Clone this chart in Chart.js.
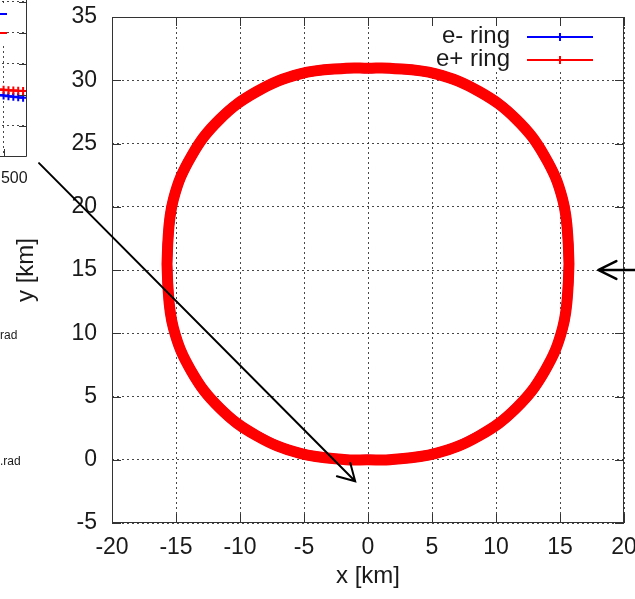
<!DOCTYPE html>
<html>
<head>
<meta charset="utf-8">
<script src="https://cdn.jsdelivr.net/npm/chart.js@4"></script>
<style>
  html, body { margin: 0; padding: 0; background: #fff; overflow: hidden; }
  #wrap { position: relative; width: 635px; height: 599px; overflow: hidden; }
  #ringChart { position: absolute; left: 0; top: 0; }
  #sideChart { position: absolute; left: -173px; top: -40px; }
</style>
</head>
<body>
<div id="wrap">
  <canvas id="ringChart" width="635" height="599"></canvas>
  <canvas id="sideChart" width="210" height="230"></canvas>
</div>
<script>
// ring layout (km), clockwise from top centre
const RING_X = [0, 1.7, 5.3, 8.7, 11.6, 13.8, 15.2, 15.65, 15.65, 15.2, 13.8, 11.6, 8.7, 5.3, 1.7, 0, -1.7, -5.3, -8.7, -11.6, -13.8, -15.2, -15.65, -15.65, -15.2, -13.8, -11.6, -8.7, -5.3, -1.7, 0]
const RING_Y = [30.95, 30.95, 30.5, 29.1, 26.9, 24.0, 20.6, 17.0, 14.0, 10.4, 7.0, 4.1, 1.9, 0.5, 0, 0, 0, 0.5, 1.9, 4.1, 7.0, 10.4, 14.0, 17.0, 20.6, 24.0, 26.9, 29.1, 30.5, 30.95, 30.95]
const SERIES = ['e- ring', 'e+ ring']
const X_TICKS = [-20, -15, -10, -5, 0, 5, 10, 15, 20]
const Y_TICKS = [-5, 0, 5, 10, 15, 20, 25, 30, 35]

// the cut-off neighbouring plot on the left of the slide
const SIDE_X = [2400, 2425, 2450, 2475, 2500, 2525, 2550, 2575, 2600]
const SIDE_POS = [1.44, 1.44, 1.438, 1.435, 1.433, 1.43, 1.428, 1.426, 1.425]
const SIDE_ELE = [1.41, 1.408, 1.405, 1.4, 1.396, 1.392, 1.388, 1.384, 1.381]
const SIDE_X_TICKS = [2000, 2500]
const SIDE_Y_TICKS = [1.2, 1.4, 1.6, 1.8, 2.0, 2.2]
const SIDE_NOTES = ['rad', '.rad']

const FONT = 'Liberation Sans, Arial, sans-serif'
const INK = '#1a1a1a'
const GRID = 'rgba(40,40,40,0.85)'

function arrow(ctx, x0, y0, x1, y1, head, spread, width) {
  const ang = Math.atan2(y1 - y0, x1 - x0)
  ctx.lineWidth = width
  ctx.beginPath()
  ctx.moveTo(x0, y0)
  ctx.lineTo(x1, y1)
  ctx.moveTo(x1 - head * Math.cos(ang - spread), y1 - head * Math.sin(ang - spread))
  ctx.lineTo(x1, y1)
  ctx.lineTo(x1 - head * Math.cos(ang + spread), y1 - head * Math.sin(ang + spread))
  ctx.stroke()
}

function keySample(ctx, x0, x1, y, color) {
  ctx.strokeStyle = color
  ctx.lineWidth = 2
  ctx.beginPath()
  ctx.moveTo(x0, y); ctx.lineTo(x1, y)
  const mx = (x0 + x1) / 2
  ctx.moveTo(mx - 4, y); ctx.lineTo(mx + 4, y)
  ctx.moveTo(mx, y - 4); ctx.lineTo(mx, y + 4)
  ctx.stroke()
}

// gnuplot look: solid frame, inward mirrored ticks, opaque key, arrows
const gnuplotFrame = {
  id: 'gnuplotFrame',
  beforeDatasetsDraw(chart) {
    const { ctx, chartArea: a } = chart
    ctx.save()
    ctx.fillStyle = '#fff'
    ctx.fillRect(415, a.top + 8, a.right - 1 - 415, 47)
    ctx.restore()
  },
  afterDraw(chart) {
    const { ctx, chartArea: a, scales: { x, y } } = chart
    ctx.save()
    ctx.strokeStyle = '#333'
    ctx.lineWidth = 1
    ctx.strokeRect(a.left + 0.5, a.top + 0.5, a.right - a.left - 1, a.bottom - a.top - 1)
    ctx.beginPath()
    X_TICKS.forEach(v => {
      const px = Math.round(x.getPixelForValue(v)) + 0.5
      ctx.moveTo(px, a.bottom); ctx.lineTo(px, a.bottom - 9)
      ctx.moveTo(px, a.top); ctx.lineTo(px, a.top + 9)
    })
    Y_TICKS.forEach(v => {
      const py = Math.round(y.getPixelForValue(v)) + 0.5
      ctx.moveTo(a.left, py); ctx.lineTo(a.left + 9, py)
      ctx.moveTo(a.right, py); ctx.lineTo(a.right - 9, py)
    })
    ctx.stroke()

    // key
    ctx.font = '24px ' + FONT
    ctx.fillStyle = INK
    ctx.textAlign = 'right'
    ctx.textBaseline = 'alphabetic'
    ctx.fillText(SERIES[0], 510, 43)
    ctx.fillText(SERIES[1], 510, 66)
    keySample(ctx, 527, 593, 37, '#0000ff')
    keySample(ctx, 527, 593, 60, '#ff0000')

    // arrows
    ctx.strokeStyle = '#000'
    ctx.lineCap = 'round'
    arrow(ctx, x.getPixelForValue(-25.7), y.getPixelForValue(23.45),
      x.getPixelForValue(-1.0), y.getPixelForValue(-1.7), 19, 0.52, 2)
    arrow(ctx, x.getPixelForValue(21.5), y.getPixelForValue(15),
      x.getPixelForValue(18.0), y.getPixelForValue(15), 20, 0.46, 2.5)

    // stray slide text on the left
    ctx.font = '12px ' + FONT
    ctx.textAlign = 'left'
    ctx.textBaseline = 'middle'
    ctx.fillText(SIDE_NOTES[0], 0, 336)
    ctx.fillText(SIDE_NOTES[1], 0, 462)
    ctx.restore()
  }
}

const ringPoints = RING_X.map((v, i) => ({ x: v, y: RING_Y[i] }))

new Chart(document.getElementById('ringChart'), {
  type: 'scatter',
  data: {
    datasets: [
      {
        label: SERIES[1],
        data: ringPoints,
        showLine: true,
        borderColor: '#ff0000',
        borderWidth: 11,
        borderJoinStyle: 'round',
        borderCapStyle: 'round',
        pointRadius: 0,
        tension: 0.4,
        order: 0
      },
      {
        label: SERIES[0],
        data: ringPoints,
        showLine: true,
        borderColor: '#0000ff',
        borderWidth: 10,
        pointRadius: 0,
        tension: 0.4,
        order: 1
      }
    ]
  },
  options: {
    responsive: false,
    animation: false,
    layout: { padding: { left: 0, right: 11, top: 17, bottom: 0 } },
    plugins: {
      legend: { display: false },
      tooltip: { enabled: false }
    },
    scales: {
      x: {
        type: 'linear',
        min: -20,
        max: 20,
        afterBuildTicks: s => { s.ticks = X_TICKS.map(v => ({ value: v })) },
        afterFit: s => { s.height = 76; s.paddingLeft = 0; s.paddingRight = 0 },
        grid: { color: GRID, lineWidth: 1, drawTicks: false },
        border: { display: false, dash: [2, 3] },
        ticks: { font: { family: FONT, size: 23 }, color: INK, padding: 11, maxRotation: 0 },
        title: { display: true, text: 'x [km]', font: { family: FONT, size: 24 }, color: INK, padding: { top: 0, bottom: 8 } }
      },
      y: {
        type: 'linear',
        min: -5,
        max: 35,
        afterBuildTicks: s => { s.ticks = Y_TICKS.map(v => ({ value: v })) },
        afterFit: s => { s.width = 112; s.paddingTop = 0; s.paddingBottom = 0 },
        grid: { color: GRID, lineWidth: 1, drawTicks: false },
        border: { display: false, dash: [2, 3] },
        ticks: { font: { family: FONT, size: 23 }, color: INK, padding: 15 },
        title: { display: true, text: 'y [km]', font: { family: FONT, size: 24 }, color: INK, padding: { top: 12, bottom: 0 } }
      }
    }
  },
  plugins: [gnuplotFrame]
})

// neighbouring plot: only its lower right corner shows
const sideFrame = {
  id: 'sideFrame',
  afterDraw(chart) {
    const { ctx, chartArea: a, scales: { x, y } } = chart
    ctx.save()
    ctx.strokeStyle = '#333'
    ctx.lineWidth = 1
    ctx.beginPath()
    ctx.moveTo(a.right - 0.5, a.top); ctx.lineTo(a.right - 0.5, a.bottom - 0.5); ctx.lineTo(a.left, a.bottom - 0.5)
    SIDE_Y_TICKS.forEach(v => {
      const py = Math.round(y.getPixelForValue(v)) + 0.5
      ctx.moveTo(a.right, py); ctx.lineTo(a.right - 8, py)
    })
    SIDE_X_TICKS.forEach(v => {
      const px = Math.round(x.getPixelForValue(v)) + 0.5
      ctx.moveTo(px, a.bottom); ctx.lineTo(px, a.bottom - 8)
    })
    ctx.stroke()
    ctx.fillStyle = '#fff'
    ctx.fillRect(a.right - 70, 44, 50, 40)
    keySample(ctx, a.right - 62, a.right - 20, 54, '#0000ff')
    keySample(ctx, a.right - 62, a.right - 20, 73, '#ff0000')
    ctx.restore()
  }
}

const sideSeries = (vals, color, order) => ({
  data: SIDE_X.map((v, i) => ({ x: v, y: vals[i] })),
  showLine: true,
  borderColor: color,
  borderWidth: 2,
  pointStyle: 'cross',
  pointRadius: 4,
  pointBorderWidth: 2,
  pointBorderColor: color,
  order
})

new Chart(document.getElementById('sideChart'), {
  type: 'scatter',
  data: {
    datasets: [
      sideSeries(SIDE_POS, '#ff0000', 0),
      sideSeries(SIDE_ELE, '#0000ff', 1)
    ]
  },
  options: {
    responsive: false,
    animation: false,
    layout: { padding: { left: 40, right: 10, top: 0, bottom: 0 } },
    plugins: {
      legend: { display: false },
      tooltip: { enabled: false }
    },
    scales: {
      x: {
        type: 'linear',
        min: 1800,
        max: 2620,
        afterBuildTicks: s => { s.ticks = SIDE_X_TICKS.map(v => ({ value: v })) },
        afterFit: s => { s.height = 33; s.paddingLeft = 0; s.paddingRight = 0 },
        grid: { color: GRID, drawTicks: false },
        border: { display: false, dash: [2, 3] },
        ticks: { font: { family: FONT, size: 16 }, color: INK, padding: 12, labelOffset: 4, maxRotation: 0 }
      },
      y: {
        type: 'linear',
        min: 1.0,
        max: 2.23,
        afterBuildTicks: s => { s.ticks = SIDE_Y_TICKS.map(v => ({ value: v })) },
        afterFit: s => { s.width = 0; s.paddingTop = 0; s.paddingBottom = 0 },
        grid: { color: GRID, drawTicks: false },
        border: { display: false, dash: [2, 3] },
        ticks: { display: false }
      }
    }
  },
  plugins: [sideFrame]
})
</script>
</body>
</html>
